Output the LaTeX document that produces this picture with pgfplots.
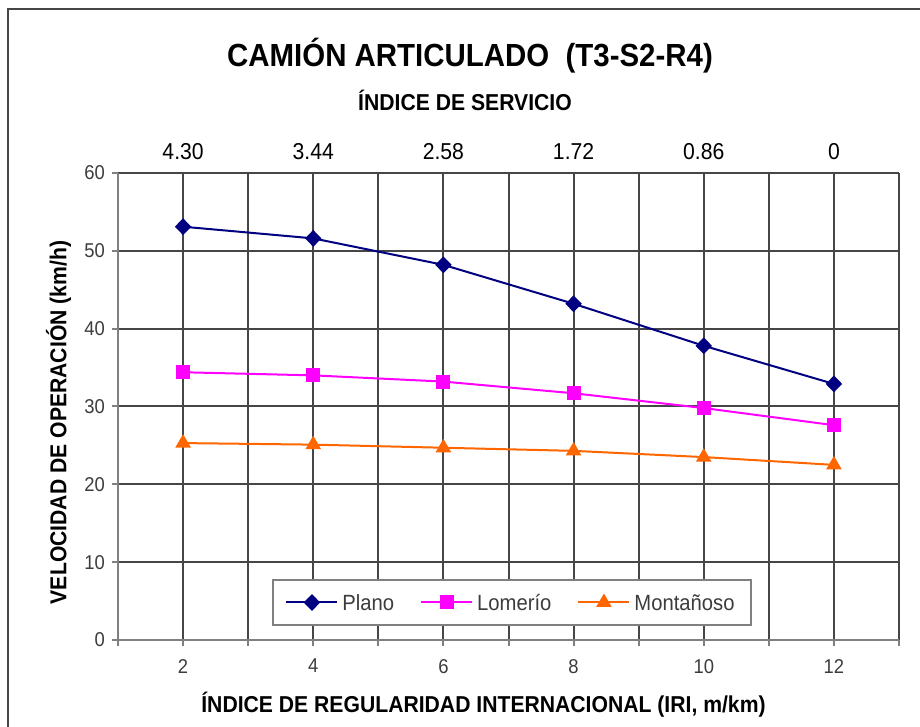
\documentclass[border=0pt]{standalone}
\usepackage{fontspec}
\setmainfont{Liberation Sans}[FakeStretch=0.92]
\usepackage{pgfplots}
\pgfplotsset{compat=1.18}
\definecolor{cPlano}{RGB}{0,0,128}
\definecolor{cLom}{RGB}{255,0,255}
\definecolor{cMon}{RGB}{255,102,0}
\definecolor{cGrid}{RGB}{70,70,70}
\definecolor{cAxis}{RGB}{128,128,128}
\definecolor{cText}{RGB}{60,60,60}
\definecolor{cFrame}{RGB}{70,70,70}

\begin{document}
\begin{tikzpicture}
% main axis: origin at (0,0), 0.5pt per reference pixel
\begin{axis}[
  at={(0,0)}, anchor=south west,
  scale only axis, width=390.5pt, height=233.5pt,
  xmin=1, xmax=13, ymin=0, ymax=60,
  xtick={2,4,...,12}, minor xtick={1,3,...,13},
  ytick={0,10,...,60},
  grid=both,
  major grid style={draw=cGrid, line width=1pt},
  minor grid style={draw=cGrid, line width=1pt},
  axis x line=bottom, axis y line=left,
  axis line style={draw=cAxis, line width=1pt, -},
  tick align=outside, major tick length=3pt, minor tick length=3pt,
  every tick/.style={draw=cAxis, line width=1pt},
  /pgf/number format/assume math mode=true,
  ticklabel style={font=\fontsize{10}{12}\selectfont, text=cText},
  xticklabel style={yshift=-3pt},
  legend columns=3,
  legend cell align=left,
  legend style={at={(0.5045,0.0803)}, anchor=center, draw=cAxis, line width=1pt,
    font=\fontsize{11}{13}\selectfont, text=cText, inner xsep=6pt, inner ysep=4pt,
    /tikz/every even column/.append style={column sep=11pt},
    /tikz/every odd column/.append style={column sep=0pt}},
  legend image code/.code={
    \draw[mark repeat=2, mark phase=2, #1] plot coordinates {(0pt,0pt) (12.75pt,0pt) (25.5pt,0pt)};},
]
\addplot[cPlano, line width=1pt, mark=diamond*, mark size=3.5pt, mark options={xscale=1.3}] coordinates {
  (2,53.1) (4,51.6) (6,48.2) (8,43.2) (10,37.8) (12,32.9)
};
\addplot[cLom, line width=1pt, mark=square*, mark size=3pt] coordinates {
  (2,34.4) (4,34.0) (6,33.2) (8,31.7) (10,29.8) (12,27.6)
};
\addplot[cMon, line width=1pt, mark=triangle*, mark size=3.5pt] coordinates {
  (2,25.3) (4,25.1) (6,24.7) (8,24.3) (10,23.5) (12,22.5)
};
\legend{Plano\strut,Lomerío\strut,Montañoso\strut}
\end{axis}
% top axis: service index labels
\begin{axis}[
  at={(0,0)}, anchor=south west,
  scale only axis, width=390.5pt, height=233.5pt,
  xmin=1, xmax=13, ymin=0, ymax=60,
  axis x line*=top, axis y line=none,
  axis line style={draw=none},
  xtick={2,4,...,12},
  xticklabels={4.30,3.44,2.58,1.72,0.86,0},
  major tick length=0pt,
  ticklabel style={font=\fontsize{11.5}{13}\selectfont, text=black},
  xticklabel style={yshift=3pt},
]
\end{axis}
% titles and labels
\node[anchor=base, font=\bfseries\fontsize{16}{19}\selectfont] at (176pt,286.5pt) {CAMIÓN ARTICULADO~~(T3-S2-R4)};
\node[anchor=base, font=\bfseries\fontsize{11.5}{14}\selectfont] at (173.5pt,264.5pt) {ÍNDICE DE SERVICIO};
\node[anchor=base, font=\bfseries\fontsize{11.5}{14}\selectfont] at (182.75pt,-36.5pt) {ÍNDICE DE REGULARIDAD INTERNACIONAL (IRI, m/km)};
\node[anchor=base, rotate=90, font=\bfseries\fontsize{11.5}{14}\selectfont] at (-25.75pt,108.75pt) {VELOCIDAD DE OPERACIÓN (km/h)};
% outer frame (left and top edges visible)
\draw[cFrame, line width=1pt] (-54.75pt,-43.5pt) -- (-54.75pt,315.25pt) -- (401pt,315.25pt);
\pgfresetboundingbox
\path[use as bounding box] (-59pt,-43.5pt) rectangle (401pt,320pt);
\end{tikzpicture}
\end{document}
